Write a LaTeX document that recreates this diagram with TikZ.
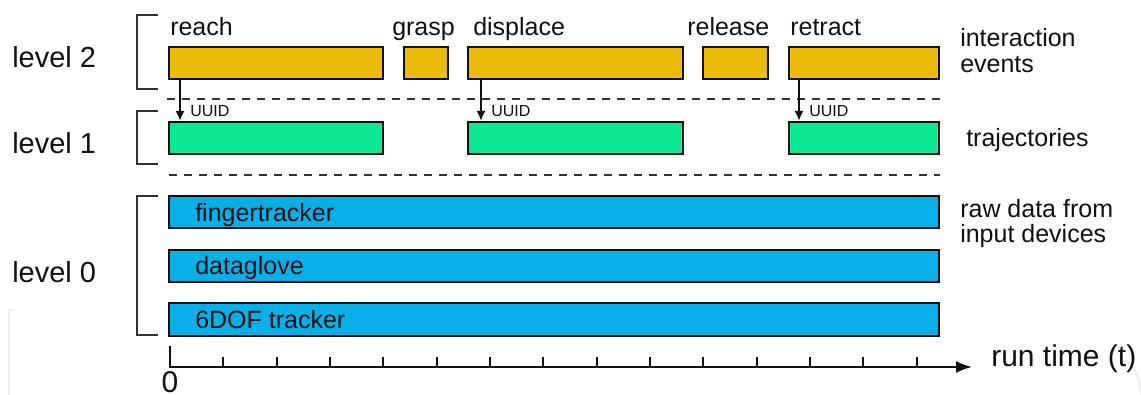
\documentclass[tikz,border=0pt]{standalone}
\usepackage{fontspec}
\setmainfont{Liberation Sans}
\usetikzlibrary{arrows.meta}
\definecolor{evorange}{HTML}{ECBA08}
\definecolor{trgreen}{HTML}{0BE994}
\definecolor{rawblue}{HTML}{09AFE8}
\definecolor{ink}{HTML}{111111}
\definecolor{brk}{HTML}{333333}
\begin{document}
\begin{tikzpicture}[x=0.75pt,y=-0.75pt,
  bar/.style={draw=ink, line width=1.5pt, inner sep=0pt, minimum height={32*0.75pt}},
  evbar/.style={bar, fill=evorange},
  trbar/.style={bar, fill=trgreen},
  rwbar/.style={bar, fill=rawblue},
  lvl/.style={font=\fontsize{21.75pt}{26pt}\selectfont, text=ink, inner sep=0pt, anchor=base west},
  lbl/.style={font=\fontsize{18.75pt}{19.5pt}\selectfont, text=ink, inner sep=0pt, anchor=base west},
  uuid/.style={font=\fontsize{12pt}{14pt}\selectfont, text=ink, inner sep=0pt, anchor=base west},
  bracket/.style={draw=brk, line width=1.1pt},
  sep/.style={draw=brk, line width=1.5pt, dash pattern=on 6pt off 5.25pt},
  link/.style={draw=ink, line width=1.5pt, -{Latex[length=7.5pt,width=6.75pt]}},
  axis/.style={draw=ink, line width=1.5pt},
  faint/.style={draw=black!7, line width=1.5pt}
]
\useasboundingbox (0,0) rectangle (1141,395);

% faint screenshot edges
\draw[faint] (13,310) -- (8.5,310) -- (8.5,395);
\draw[faint] (1128,362) .. controls (1136,368) and (1140,380) .. (1141,395);

% level labels
\node[lvl] (l2) at (12,68) {level 2};
\node[lvl] (l1) at (12,154) {level 1};
\node[lvl] (l0) at (12,282) {level 0};

% brackets
\draw[bracket] (158,15) -- (137,15) -- (137,89) -- (158,89);
\draw[bracket] (158,111) -- (137,111) -- (137,164) -- (158,164);
\draw[bracket] (158,196) -- (137,196) -- (137,335) -- (158,335);

% level 2: interaction events
\node[evbar, minimum width={214*0.75pt}] (e1) at (276,63) {};
\node[evbar, minimum width={44*0.75pt}]  (e2) at (426,63) {};
\node[evbar, minimum width={215*0.75pt}] (e3) at (575.5,63) {};
\node[evbar, minimum width={65*0.75pt}]  (e4) at (735.5,63) {};
\node[evbar, minimum width={150*0.75pt}] (e5) at (864,63) {};

\node[lbl] (t1) at (170,36) {reach};
\node[lbl] (t2) at (392,36) {grasp};
\node[lbl] (t3) at (473,36) {displace};
\node[lbl] (t4) at (687,36) {release};
\node[lbl] (t5) at (790,36) {retract};

% level 1: trajectories
\node[trbar, minimum width={214*0.75pt}] (g1) at (276,138) {};
\node[trbar, minimum width={215*0.75pt}] (g3) at (575.5,138) {};
\node[trbar, minimum width={150*0.75pt}] (g5) at (864,138) {};

% separators
\draw[sep] (167,99) -- (945,99);
\draw[sep] (169,175) -- (940,175);

% UUID links
\draw[link] ([xshift=9pt]e1.south west) -- ([xshift=9pt]g1.north west)
  node[uuid, at end, xshift=7pt, yshift=3.5pt] (u1) {UUID};
\draw[link] ([xshift=10.5pt]e3.south west) -- ([xshift=10.5pt]g3.north west)
  node[uuid, at end, xshift=7pt, yshift=3.5pt] (u3) {UUID};
\draw[link] ([xshift=8.25pt]e5.south west) -- ([xshift=8.25pt]g5.north west)
  node[uuid, at end, xshift=7pt, yshift=3.5pt] (u5) {UUID};

% level 0: raw data
\node[rwbar, minimum width={770*0.75pt}] (b1) at (554,212) {};
\node[rwbar, minimum width={770*0.75pt}] (b2) at (554,266) {};
\node[rwbar, minimum width={770*0.75pt}, minimum height={33*0.75pt}] (b3) at (554,319.5) {};
\node[lbl] (bt1) at (195,222) {fingertracker};
\node[lbl] (bt2) at (195,274) {dataglove};
\node[lbl] (bt3) at (195,328) {6DOF tracker};

% side labels
\node[lbl] (s1a) at (960,47) {interaction};
\node[lbl] (s1b) at (960,73) {events};
\node[lbl] (s2) at (966,147) {trajectories};
\node[lbl] (s3a) at (960,218) {raw data from};
\node[lbl] (s3b) at (960,243) {input devices};

% time axis
\coordinate (ax0) at (170,367);
\coordinate (axtop) at (170,346);
\coordinate (axend) at (972,367);
\draw[axis, -{Latex[length=12pt,width=9pt]}] (axtop) -- (ax0) -- (axend);
\foreach \i in {1,...,14} {
  \draw[axis] (170+53.33*\i,357) -- (170+53.33*\i,367);
}
\node[lvl, font=\fontsize{22.5pt}{26pt}\selectfont, anchor=base, text depth=0pt] (zero) at (170,392) {0};
\node[lvl, font=\fontsize{22.5pt}{26pt}\selectfont] (rt) at (991,366) {run time (t)};
\end{tikzpicture}
\end{document}
